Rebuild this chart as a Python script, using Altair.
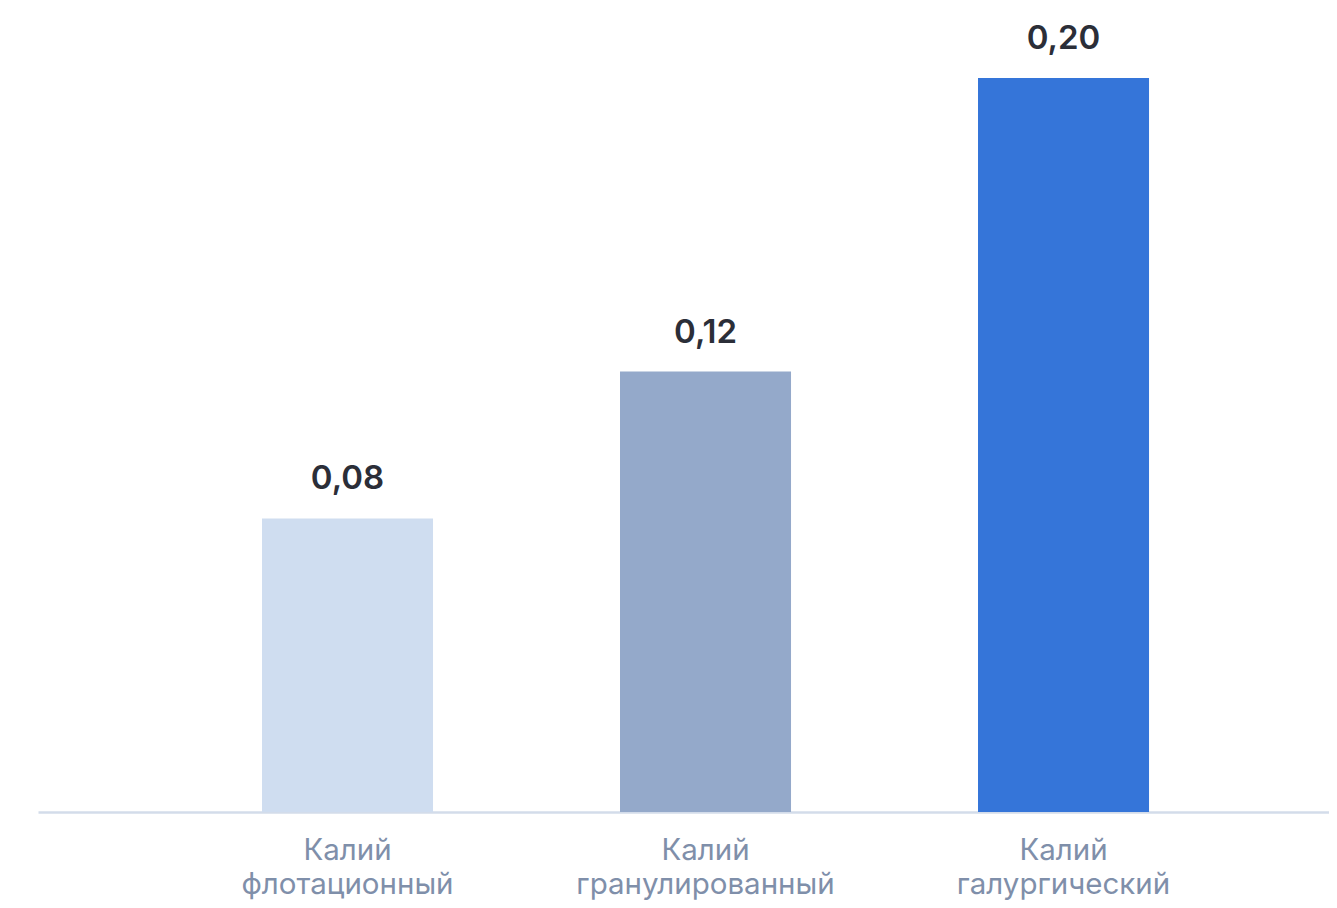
import altair as alt
import pandas as pd

categories = ["Калий флотационный", "Калий гранулированный", "Калий галургический"]
values = [0.08, 0.12, 0.20]
colors = ["#cfddf0", "#94a9ca", "#3575d9"]

df = pd.DataFrame({"cat": categories, "v": values, "c": colors})

x = alt.X(
    "cat:N",
    sort=categories,
    title=None,
    scale=alt.Scale(paddingInner=0.5223, paddingOuter=0.5642, align=0.5545),
    axis=alt.Axis(
        labelExpr="split(datum.label, ' ')",
        labelAngle=0,
        labelFont="Inter",
        labelFontSize=29.5,
        labelColor="#7f8faa",
        labelLineHeight=34,
        labelPadding=24,
        labelLimit=0,
        ticks=False,
        domainColor="#d3dcea",
        domainWidth=2.5,
        grid=False,
    ),
)

y = alt.Y("v:Q", scale=alt.Scale(domain=[0, 0.2], nice=False), axis=None)

bars = alt.Chart(df).mark_bar().encode(x=x, y=y, color=alt.Color("c:N", scale=None))

labels = (
    alt.Chart(df)
    .transform_calculate(lbl="replace(format(datum.v, '.2f'), '.', ',')")
    .mark_text(
        dy=-22,
        baseline="bottom",
        font="Inter",
        fontSize=33,
        fontWeight=600,
        color="#2b2e38",
    )
    .encode(x=alt.X("cat:N", sort=categories), y=y, text="lbl:N")
)

chart = (
    alt.layer(bars, labels)
    .properties(
        width=1291,
        height=734,
        padding={"left": 30, "top": 70, "right": 0, "bottom": 88},
        autosize=alt.AutoSizeParams(type="none"),
        background="#ffffff",
    )
    .configure_view(stroke=None)
)

chart.save("out.html", embed_options={"renderer": "svg", "actions": False})
